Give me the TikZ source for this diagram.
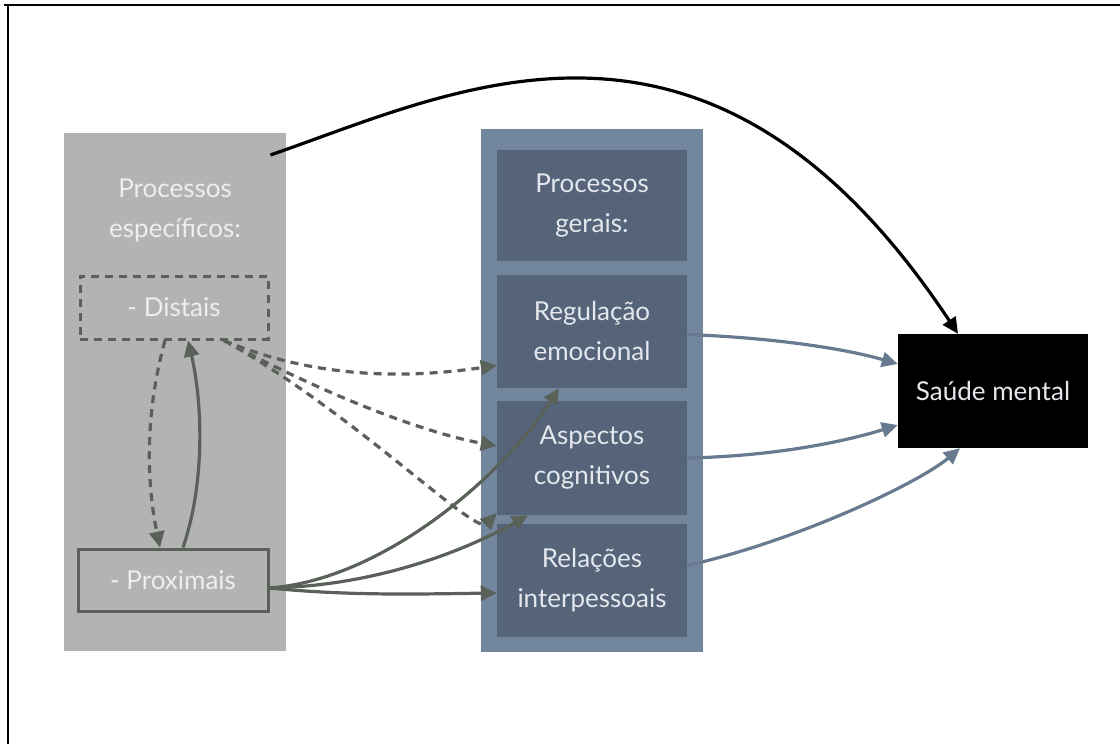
\documentclass[tikz,border=0pt]{standalone}
\usepackage{fontspec}
\setmainfont{Lato}
\usetikzlibrary{arrows.meta}

\definecolor{panelgrey}{HTML}{B3B3B3}
\definecolor{paneltext}{HTML}{EEEEEE}
\definecolor{linkdark}{HTML}{596159}
\definecolor{outerblue}{HTML}{72879D}
\definecolor{innerblue}{HTML}{56647A}
\definecolor{bluetext}{HTML}{E4E8ED}
\definecolor{linkblue}{HTML}{687A90}

\tikzset{
  labeltext/.style={font=\fontsize{26}{40}\selectfont, align=center},
  innerbox/.style={fill=innerblue, text=bluetext, labeltext, inner sep=0pt,
    minimum width=190pt, minimum height=113pt},
  levelbox/.style={draw=linkdark, line width=3pt, text=paneltext, labeltext,
    inner sep=0pt, minimum width=188pt, minimum height=63pt},
  tip/.style={-{Triangle[length=16pt,width=15pt]}},
  darklink/.style={tip, draw=linkdark, line width=3.2pt},
  dashlink/.style={darklink, dash pattern=on 8pt off 6pt},
  bluelink/.style={tip, draw=linkblue, line width=3.2pt},
  blacklink/.style={tip, draw=black, line width=3.2pt},
}

\begin{document}
\begin{tikzpicture}[x=1pt,y=-1pt]
\useasboundingbox (0,0) rectangle (1120,744);

% page frame (top and left rules)
\draw[line width=2pt] (4,5) -- (1120,5);
\draw[line width=2pt] (8,5) -- (8,744);

% specific processes panel
\node[fill=panelgrey, inner sep=0pt, minimum width=222pt, minimum height=518pt,
      anchor=north west] (spec) at (64,133) {};
\node[labeltext, text=paneltext] (spectitle) at (175,210) {Processos\\específicos:};
\node[levelbox, dash pattern=on 8pt off 6pt] (distais) at (174,307.5) {- Distais};
\node[levelbox, minimum width=190pt, minimum height=62pt] (prox) at (173,580) {- Proximais};

% general processes panel
\node[fill=outerblue, inner sep=0pt, minimum width=222pt, minimum height=523pt,
      anchor=north west] (gen) at (481,129) {};
\node[innerbox, minimum height=111pt] (gentitle) at (592,205.5) {Processos\\gerais:};
\node[innerbox] (reg) at (592,331.5) {Regulação\\emocional};
\node[innerbox, minimum height=114pt] (asp) at (592,458) {Aspectos\\cognitivos};
\node[innerbox] (rel) at (592,580.5) {Relações\\interpessoais};

% outcome
\node[fill=black, text=bluetext, labeltext, inner sep=0pt,
      minimum width=190pt, minimum height=114pt] (sm) at (993,391) {Saúde mental};

% direct effect of specific processes on mental health
\draw[blacklink] ([xshift=-16pt,yshift=-22pt]spec.north east)
  .. controls (459,90) and (710,-40) .. ([xshift=-35pt]sm.north);

% distal <-> proximal
\draw[dashlink] ([xshift=-9pt]distais.south)
  .. controls (143,420) and (148,490) .. ([xshift=-13pt]prox.north);
\draw[darklink] ([xshift=10pt]prox.north)
  .. controls (206,480) and (202,400) .. ([xshift=14pt]distais.south);

% distal -> general processes
\draw[dashlink] ([xshift=50pt]distais.south)
  .. controls (330,385) and (430,375) .. ([yshift=-34pt]reg.west);
\draw[dashlink] ([xshift=50pt]distais.south)
  .. controls (320,392) and (420,432) .. ([yshift=12pt]asp.west);
\draw[dashlink] ([xshift=50pt]distais.south)
  .. controls (350,410) and (475,535) .. ([yshift=2pt]asp.south west);

% proximal -> general processes
\draw[darklink] ([yshift=-8pt]prox.east)
  .. controls (380,580) and (500,480) .. ([xshift=-33pt]reg.south);
\draw[darklink] ([yshift=-8pt]prox.east)
  .. controls (380,586) and (470,548) .. ([xshift=-64pt]asp.south);
\draw[darklink] ([yshift=-8pt]prox.east)
  .. controls (350,596) and (420,594) .. ([yshift=-12.5pt]rel.west);

% general processes -> mental health
\draw[bluelink] ([yshift=-3pt]reg.east)
  .. controls (780,338) and (850,350) .. ([yshift=27pt]sm.west);
\draw[bluelink] (asp.east)
  .. controls (780,456) and (850,440) .. ([yshift=-34pt]sm.west);
\draw[bluelink] ([yshift=15pt]rel.east)
  .. controls (800,540) and (920,482) .. ([xshift=-33pt]sm.south);
\end{tikzpicture}
\end{document}
